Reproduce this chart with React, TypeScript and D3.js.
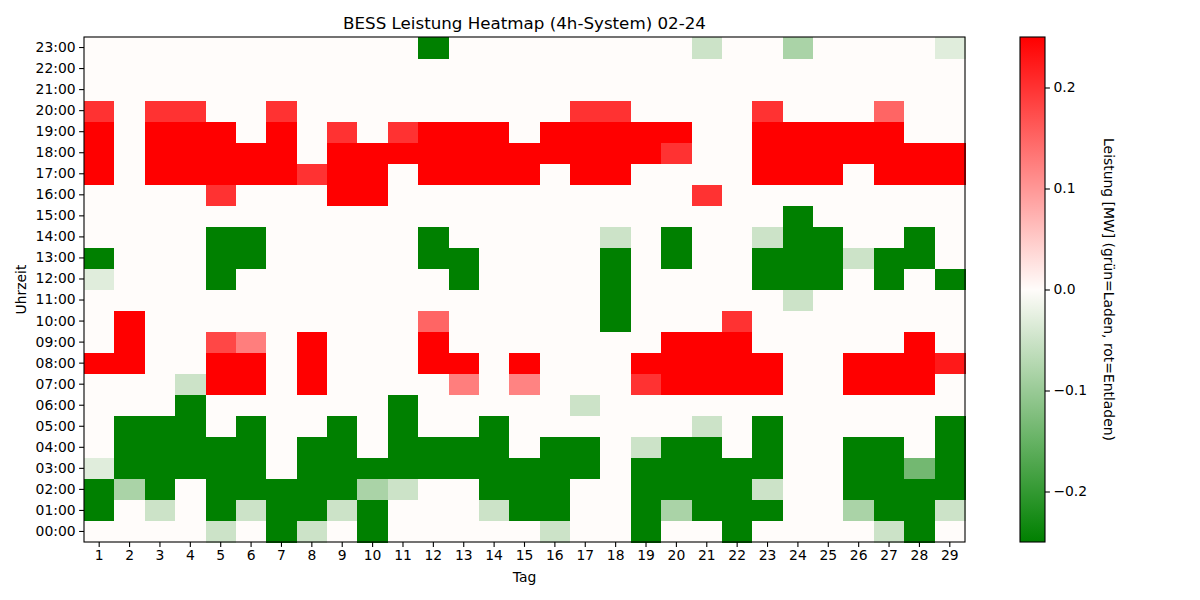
import * as d3 from "d3";
import { useEffect, useRef } from "react";

// Tage im Monat (02-24) und Stunden
const days: number[] = d3.range(1, 30);
const hours: string[] = d3.range(0, 24).map((h) => `${String(h).padStart(2, "0")}:00`);
const colorbarTicks: number[] = [-0.2, -0.1, 0.0, 0.1, 0.2];

// Leistung [MW], eine Zeile pro Stunde (00:00 ... 23:00), Spalten = Tag 1..29
const h00 = [0, 0, 0, 0, -0.05, 0, -0.25, -0.05, 0, -0.25, 0, 0, 0, 0, 0, -0.05, 0, 0, -0.25, 0, 0, -0.25, 0, 0, 0, 0, -0.05, -0.25, 0];
const h01 = [-0.25, 0, -0.05, 0, -0.25, -0.05, -0.25, -0.25, -0.05, -0.25, 0, 0, 0, -0.05, -0.25, -0.25, 0, 0, -0.25, -0.083, -0.25, -0.25, -0.25, 0, 0, -0.083, -0.25, -0.25, -0.05];
const h02 = [-0.25, -0.083, -0.25, 0, -0.25, -0.25, -0.25, -0.25, -0.25, -0.083, -0.05, 0, 0, -0.25, -0.25, -0.25, 0, 0, -0.25, -0.25, -0.25, -0.25, -0.05, 0, 0, -0.25, -0.25, -0.25, -0.25];
const h03 = [-0.03, -0.25, -0.25, -0.25, -0.25, -0.25, 0, -0.25, -0.25, -0.25, -0.25, -0.25, -0.25, -0.25, -0.25, -0.25, -0.25, 0, -0.25, -0.25, -0.25, -0.25, -0.25, 0, 0, -0.25, -0.25, -0.137, -0.25];
const h04 = [0, -0.25, -0.25, -0.25, -0.25, -0.25, 0, -0.25, -0.25, 0, -0.25, -0.25, -0.25, -0.25, 0, -0.25, -0.25, 0, -0.05, -0.25, -0.25, 0, -0.25, 0, 0, -0.25, -0.25, 0, -0.25];
const h05 = [0, -0.25, -0.25, -0.25, 0, -0.25, 0, 0, -0.25, 0, -0.25, 0, 0, -0.25, 0, 0, 0, 0, 0, 0, -0.05, 0, -0.25, 0, 0, 0, 0, 0, -0.25];
const h06 = [0, 0, 0, -0.25, 0, 0, 0, 0, 0, 0, -0.25, 0, 0, 0, 0, 0, -0.05, 0, 0, 0, 0, 0, 0, 0, 0, 0, 0, 0, 0];
const h07 = [0, 0, 0, -0.05, 0.25, 0.25, 0, 0.25, 0, 0, 0, 0, 0.125, 0, 0.12, 0, 0, 0, 0.2, 0.25, 0.25, 0.25, 0.25, 0, 0, 0.25, 0.25, 0.25, 0];
const h08 = [0.25, 0.25, 0, 0, 0.25, 0.25, 0, 0.25, 0, 0, 0, 0.25, 0.25, 0, 0.25, 0, 0, 0, 0.25, 0.25, 0.25, 0.25, 0.25, 0, 0, 0.25, 0.25, 0.25, 0.225];
const h09 = [0, 0.25, 0, 0, 0.18, 0.125, 0, 0.25, 0, 0, 0, 0.25, 0, 0, 0, 0, 0, 0, 0, 0.25, 0.25, 0.25, 0, 0, 0, 0, 0, 0.25, 0];
const h10 = [0, 0.25, 0, 0, 0, 0, 0, 0, 0, 0, 0, 0.15, 0, 0, 0, 0, 0, -0.25, 0, 0, 0, 0.2, 0, 0, 0, 0, 0, 0, 0];
const h11 = [0, 0, 0, 0, 0, 0, 0, 0, 0, 0, 0, 0, 0, 0, 0, 0, 0, -0.25, 0, 0, 0, 0, 0, -0.05, 0, 0, 0, 0, 0];
const h12 = [-0.03, 0, 0, 0, -0.25, 0, 0, 0, 0, 0, 0, 0, -0.25, 0, 0, 0, 0, -0.25, 0, 0, 0, 0, -0.25, -0.25, -0.25, 0, -0.25, 0, -0.25];
const h13 = [-0.25, 0, 0, 0, -0.25, -0.25, 0, 0, 0, 0, 0, -0.25, -0.25, 0, 0, 0, 0, -0.25, 0, -0.25, 0, 0, -0.25, -0.25, -0.25, -0.05, -0.25, -0.25, 0];
const h14 = [0, 0, 0, 0, -0.25, -0.25, 0, 0, 0, 0, 0, -0.25, 0, 0, 0, 0, 0, -0.05, 0, -0.25, 0, 0, -0.05, -0.25, -0.25, 0, 0, -0.25, 0];
const h15 = [0, 0, 0, 0, 0, 0, 0, 0, 0, 0, 0, 0, 0, 0, 0, 0, 0, 0, 0, 0, 0, 0, 0, -0.25, 0, 0, 0, 0, 0];
const h16 = [0, 0, 0, 0, 0.2, 0, 0, 0, 0.25, 0.25, 0, 0, 0, 0, 0, 0, 0, 0, 0, 0, 0.2, 0, 0, 0, 0, 0, 0, 0, 0];
const h17 = [0.25, 0, 0.25, 0.25, 0.25, 0.25, 0.25, 0.2, 0.25, 0.25, 0, 0.25, 0.25, 0.25, 0.25, 0, 0.25, 0.25, 0, 0, 0, 0, 0.25, 0.25, 0.25, 0, 0.25, 0.25, 0.25];
const h18 = [0.25, 0, 0.25, 0.25, 0.25, 0.25, 0.25, 0, 0.25, 0.25, 0.25, 0.25, 0.25, 0.25, 0.25, 0.25, 0.25, 0.25, 0.25, 0.2, 0, 0, 0.25, 0.25, 0.25, 0.25, 0.25, 0.25, 0.25];
const h19 = [0.25, 0, 0.25, 0.25, 0.25, 0, 0.25, 0, 0.2, 0, 0.2, 0.25, 0.25, 0.25, 0, 0.25, 0.25, 0.25, 0.25, 0.25, 0, 0, 0.25, 0.25, 0.25, 0.25, 0.25, 0, 0];
const h20 = [0.2, 0, 0.2, 0.2, 0, 0, 0.2, 0, 0, 0, 0, 0, 0, 0, 0, 0, 0.2, 0.2, 0, 0, 0, 0, 0.2, 0, 0, 0, 0.15, 0, 0];
const h21 = [0, 0, 0, 0, 0, 0, 0, 0, 0, 0, 0, 0, 0, 0, 0, 0, 0, 0, 0, 0, 0, 0, 0, 0, 0, 0, 0, 0, 0];
const h22 = [0, 0, 0, 0, 0, 0, 0, 0, 0, 0, 0, 0, 0, 0, 0, 0, 0, 0, 0, 0, 0, 0, 0, 0, 0, 0, 0, 0, 0];
const h23 = [0, 0, 0, 0, 0, 0, 0, 0, 0, 0, 0, -0.25, 0, 0, 0, 0, 0, 0, 0, 0, -0.05, 0, 0, -0.083, 0, 0, 0, 0, -0.03];

const leistung: number[][] = [
  h00, h01, h02, h03, h04, h05, h06, h07, h08, h09, h10, h11,
  h12, h13, h14, h15, h16, h17, h18, h19, h20, h21, h22, h23,
];

type Cell = { day: number; hour: string; value: number };

const font = "DejaVu Sans, sans-serif";

const App: React.FC = () => {
  const chartRef = useRef<SVGSVGElement | null>(null);

  useEffect(() => {
    document.body.style.margin = "0";
    if (!chartRef.current) return;
    const svg = d3.select(chartRef.current);
    svg.selectAll("*").remove();

    const width = 1200;
    const height = 600;
    const plot = { left: 84, right: 965, top: 37, bottom: 542 };
    const cbar = { left: 1020, right: 1045 };

    svg.attr("width", width).attr("height", height).style("background", "#fff");

    const x = d3
      .scaleBand<number>()
      .domain(days)
      .range([plot.left, plot.right]);

    const y = d3
      .scaleBand<string>()
      .domain([...hours].reverse())
      .range([plot.top, plot.bottom]);

    const color = d3
      .scaleLinear<string>()
      .domain([-0.25, 0, 0.25])
      .range(["#008000", "#fffcfa", "#ff0000"])
      .interpolate(d3.interpolateRgb)
      .clamp(true);

    const cells: Cell[] = [];
    leistung.forEach((row, h) =>
      row.forEach((v, i) => cells.push({ day: days[i], hour: hours[h], value: v }))
    );

    svg
      .append("g")
      .attr("shape-rendering", "crispEdges")
      .selectAll("rect")
      .data(cells)
      .join("rect")
      .attr("x", (d) => x(d.day)!)
      .attr("y", (d) => y(d.hour)!)
      .attr("width", x.bandwidth() + 0.5)
      .attr("height", y.bandwidth() + 0.5)
      .attr("fill", (d) => color(d.value));

    // Rahmen
    svg
      .append("rect")
      .attr("x", plot.left)
      .attr("y", plot.top)
      .attr("width", plot.right - plot.left)
      .attr("height", plot.bottom - plot.top)
      .attr("fill", "none")
      .attr("stroke", "#000")
      .attr("stroke-width", 1.1);

    const styleAxis = (g: d3.Selection<SVGGElement, unknown, null, undefined>) => {
      g.select(".domain").remove();
      g.selectAll(".tick line").attr("stroke", "#000").attr("stroke-width", 1.1);
      g.selectAll(".tick text")
        .attr("fill", "#000")
        .style("font-family", font)
        .style("font-size", "13.9px");
    };

    svg
      .append("g")
      .attr("transform", `translate(0,${plot.bottom})`)
      .call(d3.axisBottom(x).tickSize(4.9).tickPadding(3.5))
      .call(styleAxis);

    svg
      .append("g")
      .attr("transform", `translate(${plot.left},0)`)
      .call(d3.axisLeft(y).tickSize(4.9).tickPadding(3.5))
      .call(styleAxis);

    // Titel und Achsenbeschriftungen
    svg
      .append("text")
      .attr("x", (plot.left + plot.right) / 2)
      .attr("y", 29)
      .attr("text-anchor", "middle")
      .style("font-family", font)
      .style("font-size", "16.7px")
      .text("BESS Leistung Heatmap (4h-System) 02-24");

    svg
      .append("text")
      .attr("x", (plot.left + plot.right) / 2)
      .attr("y", 582)
      .attr("text-anchor", "middle")
      .style("font-family", font)
      .style("font-size", "13.9px")
      .text("Tag");

    svg
      .append("text")
      .attr("transform", `translate(26,${(plot.top + plot.bottom) / 2}) rotate(-90)`)
      .attr("text-anchor", "middle")
      .style("font-family", font)
      .style("font-size", "13.9px")
      .text("Uhrzeit");

    // Farbskala
    const cy = d3
      .scaleLinear<number>()
      .domain([-0.25, 0.25])
      .range([plot.bottom, plot.top]);

    const grad = svg
      .append("defs")
      .append("linearGradient")
      .attr("id", "cbar-grad")
      .attr("x1", 0)
      .attr("y1", 1)
      .attr("x2", 0)
      .attr("y2", 0);

    grad
      .selectAll("stop")
      .data(d3.range(0, 1.0001, 0.05))
      .join("stop")
      .attr("offset", (t) => t)
      .attr("stop-color", (t) => color(-0.25 + t * 0.5));

    svg
      .append("rect")
      .attr("x", cbar.left)
      .attr("y", plot.top)
      .attr("width", cbar.right - cbar.left)
      .attr("height", plot.bottom - plot.top)
      .attr("fill", "url(#cbar-grad)")
      .attr("stroke", "#000")
      .attr("stroke-width", 1.1);

    svg
      .append("g")
      .attr("transform", `translate(${cbar.right},0)`)
      .call(
        d3
          .axisRight(cy)
          .tickValues(colorbarTicks)
          .tickFormat(d3.format(".1f"))
          .tickSize(4.9)
          .tickPadding(3.5)
      )
      .call(styleAxis);

    svg
      .append("text")
      .attr("transform", `translate(1104,${(plot.top + plot.bottom) / 2}) rotate(90)`)
      .attr("text-anchor", "middle")
      .style("font-family", font)
      .style("font-size", "13.9px")
      .text("Leistung [MW] (grün=Laden, rot=Entladen)");
  }, []);

  return <svg ref={chartRef} style={{ display: "block" }}></svg>;
};

export default App;
